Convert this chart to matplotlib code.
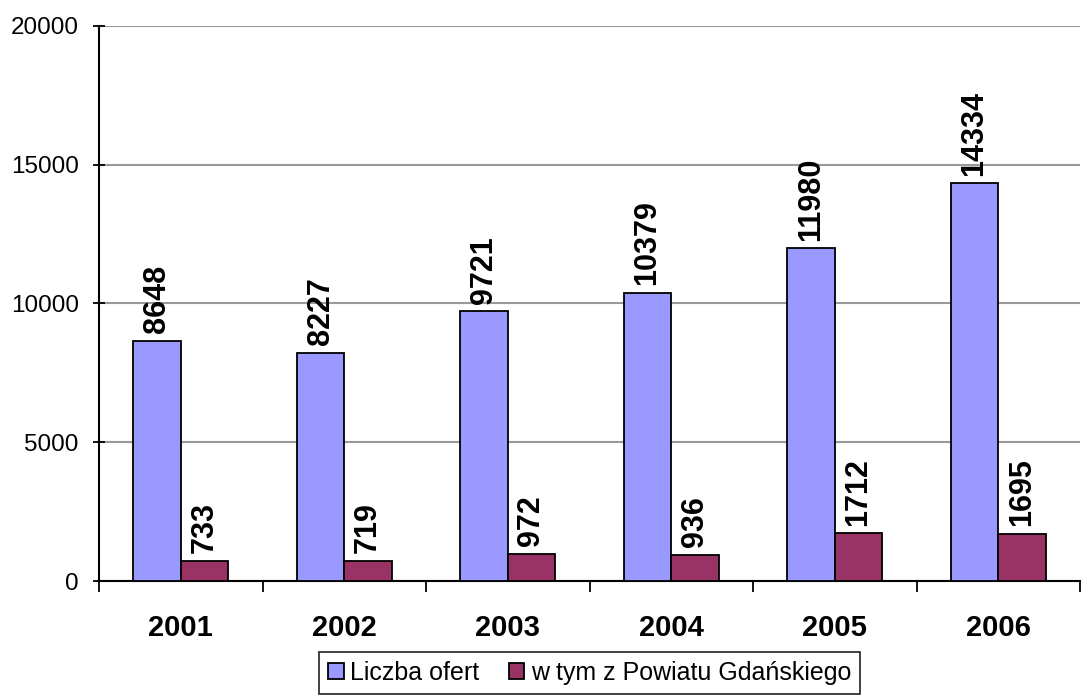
import matplotlib
matplotlib.use("Agg")
import matplotlib.pyplot as plt
import numpy as np

years = ["2001", "2002", "2003", "2004", "2005", "2006"]
offers = [8648, 8227, 9721, 10379, 11980, 14334]
gdansk = [733, 719, 972, 936, 1712, 1695]
series_names = ["Liczba ofert", "w tym z Powiatu Gdańskiego"]
yticks = [0, 5000, 10000, 15000, 20000]

plt.rcParams['font.family'] = ['Liberation Sans', 'DejaVu Sans']

fig = plt.figure(figsize=(10.88, 7.0), dpi=100)
ax = fig.add_axes([0.091, 0.17, 0.9017, 0.793])

x = np.arange(len(years))
w = 0.29
b1 = ax.bar(x - w / 2, offers, w, color="#9999FF", edgecolor="black", linewidth=1.3, label=series_names[0], zorder=3)
b2 = ax.bar(x + w / 2, gdansk, w, color="#993366", edgecolor="black", linewidth=1.3, label=series_names[1], zorder=3)

for bars, vals in ((b1, offers), (b2, gdansk)):
    for r, v in zip(bars, vals):
        ax.annotate(str(v), (r.get_x() + r.get_width() / 2, v), xytext=(0, 5.5),
                    textcoords="offset points", rotation=90, ha="center", va="bottom",
                    fontsize=22, fontweight="bold", zorder=4)

ax.set_xlim(-0.5, len(years) - 0.5)
ax.set_ylim(0, 20000)
ax.set_yticks(yticks)
ax.set_yticklabels([str(t) for t in yticks], fontsize=17.5)
ax.yaxis.grid(True, color="#999999", linewidth=1.5, zorder=0)
ax.set_axisbelow(True)

ax.set_xticks(x)
ax.set_xticklabels(years, fontsize=21, fontweight="bold")
ax.tick_params(axis="x", length=0, pad=24)
ax.set_xticks(np.arange(len(years) + 1) - 0.5, minor=True)
ax.tick_params(axis="x", which="minor", length=8, width=1.3, direction="out")
ax.tick_params(axis="y", length=8, width=1.3, direction="inout", pad=10.5)

for s in ("top", "right"):
    ax.spines[s].set_visible(False)
for s in ("left", "bottom"):
    ax.spines[s].set_linewidth(1.5)

leg = ax.legend(loc="upper center", bbox_to_anchor=(0.5, -0.128), ncol=2, frameon=True,
                fancybox=False, shadow=False, fontsize=18, handlelength=0.62, handleheight=0.62,
                handletextpad=0.25, columnspacing=1.2, borderpad=0.35, borderaxespad=0)
leg.get_frame().set_edgecolor("black")
leg.get_frame().set_linewidth(1.3)

fig.savefig("out.png", dpi=100)
